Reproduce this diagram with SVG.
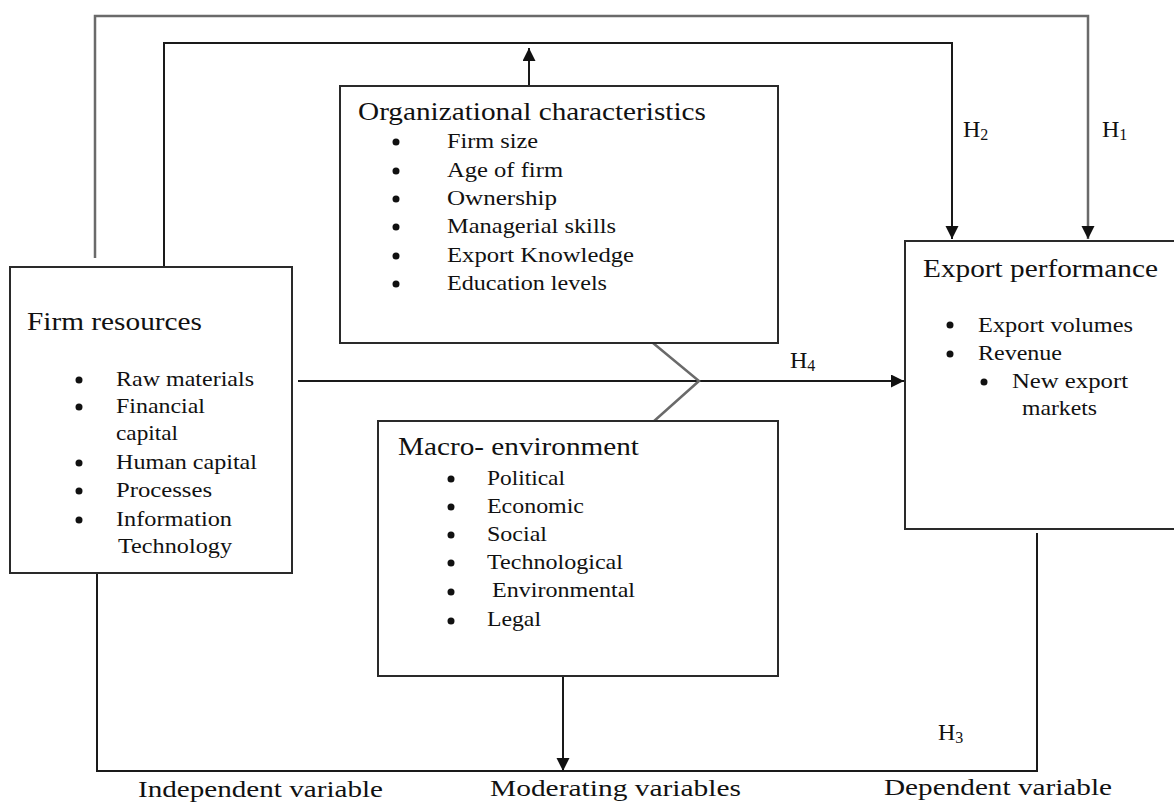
<svg xmlns="http://www.w3.org/2000/svg" width="1174" height="803" viewBox="0 0 1174 803">
<defs>
<style>
.box{fill:#fff;stroke:#2a2a2a;stroke-width:2}
.ln{fill:none;stroke:#1a1a1a;stroke-width:2}
.gl{fill:none;stroke:#6a6a6a;stroke-width:2.5}
.t{font-family:"Liberation Serif","Times New Roman",serif;fill:#111}
.ti{font-size:26px}
.it{font-size:22px}
.lb{font-size:24px}
.hl{font-size:24px}
.sub{font-size:16px}
.b{fill:#111}
</style>
<marker id="ah" markerUnits="userSpaceOnUse" markerWidth="14" markerHeight="14" refX="13" refY="6.5" orient="auto">
<path d="M0,0 L13,6.5 L0,13 z" fill="#111"/>
</marker>
</defs>
<rect width="1174" height="803" fill="#fff"/>

<g id="connectors">
<path class="gl" d="M95,258 V16 H1088 V239" marker-end="url(#ah)"/>
<path class="ln" d="M164,267 V43 H952 V239" marker-end="url(#ah)"/>
<path class="ln" d="M529,86 V48" marker-end="url(#ah)"/>
<path class="ln" d="M298,381 H904" marker-end="url(#ah)"/>
<path class="gl" d="M653,343 L699,381 L653,422" stroke-width="2"/>
<path class="ln" d="M1037,533 V771 H97 V573"/>
<path class="ln" d="M563,676 V771" marker-end="url(#ah)"/>
</g>

<g id="org">
<rect class="box" x="340" y="86" width="438" height="257"/>
<text class="t ti" x="358" y="120" textLength="348" lengthAdjust="spacingAndGlyphs">Organizational  characteristics</text>
<g class="b"><circle cx="396" cy="142" r="3.5"/><circle cx="396" cy="171" r="3.5"/><circle cx="396" cy="199" r="3.5"/><circle cx="396" cy="227" r="3.5"/><circle cx="396" cy="256" r="3.5"/><circle cx="396" cy="284" r="3.5"/></g>
<text class="t it" x="447" y="148" textLength="91" lengthAdjust="spacingAndGlyphs">Firm size</text>
<text class="t it" x="447" y="177" textLength="116" lengthAdjust="spacingAndGlyphs">Age of firm</text>
<text class="t it" x="447" y="205" textLength="110" lengthAdjust="spacingAndGlyphs">Ownership</text>
<text class="t it" x="447" y="233" textLength="169" lengthAdjust="spacingAndGlyphs">Managerial skills</text>
<text class="t it" x="447" y="262" textLength="187" lengthAdjust="spacingAndGlyphs">Export Knowledge</text>
<text class="t it" x="447" y="290" textLength="160" lengthAdjust="spacingAndGlyphs">Education levels</text>
</g>

<g id="firm">
<rect class="box" x="10" y="267" width="282" height="306"/>
<text class="t ti" x="27" y="330" textLength="175" lengthAdjust="spacingAndGlyphs">Firm resources</text>
<g class="b"><circle cx="79" cy="380" r="3.5"/><circle cx="79" cy="407" r="3.5"/><circle cx="79" cy="463" r="3.5"/><circle cx="79" cy="491" r="3.5"/><circle cx="79" cy="520" r="3.5"/></g>
<text class="t it" x="116" y="386" textLength="138" lengthAdjust="spacingAndGlyphs">Raw materials</text>
<text class="t it" x="116" y="413" textLength="89" lengthAdjust="spacingAndGlyphs">Financial</text>
<text class="t it" x="116" y="440" textLength="62" lengthAdjust="spacingAndGlyphs">capital</text>
<text class="t it" x="116" y="469" textLength="141" lengthAdjust="spacingAndGlyphs">Human capital</text>
<text class="t it" x="116" y="497" textLength="96" lengthAdjust="spacingAndGlyphs">Processes</text>
<text class="t it" x="116" y="526" textLength="116" lengthAdjust="spacingAndGlyphs">Information</text>
<text class="t it" x="118" y="553" textLength="114" lengthAdjust="spacingAndGlyphs">Technology</text>
</g>

<g id="macro">
<rect class="box" x="378" y="421" width="400" height="255"/>
<text class="t ti" x="398" y="455" textLength="241" lengthAdjust="spacingAndGlyphs">Macro-  environment</text>
<g class="b"><circle cx="451" cy="479" r="3.5"/><circle cx="451" cy="507" r="3.5"/><circle cx="451" cy="535" r="3.5"/><circle cx="451" cy="563" r="3.5"/><circle cx="451" cy="592" r="3.5"/><circle cx="451" cy="621" r="3.5"/></g>
<text class="t it" x="487" y="485" textLength="78" lengthAdjust="spacingAndGlyphs">Political</text>
<text class="t it" x="487" y="513" textLength="97" lengthAdjust="spacingAndGlyphs">Economic</text>
<text class="t it" x="487" y="541" textLength="60" lengthAdjust="spacingAndGlyphs">Social</text>
<text class="t it" x="487" y="569" textLength="136" lengthAdjust="spacingAndGlyphs">Technological</text>
<text class="t it" x="492" y="597" textLength="143" lengthAdjust="spacingAndGlyphs">Environmental</text>
<text class="t it" x="487" y="626" textLength="54" lengthAdjust="spacingAndGlyphs">Legal</text>
</g>

<g id="export">
<rect class="box" x="905" y="241" width="280" height="288"/>
<text class="t ti" x="923" y="277" textLength="235" lengthAdjust="spacingAndGlyphs">Export performance</text>
<g class="b"><circle cx="950" cy="325" r="3.5"/><circle cx="950" cy="354" r="3.5"/><circle cx="984" cy="382" r="3.5"/></g>
<text class="t it" x="978" y="332" textLength="155" lengthAdjust="spacingAndGlyphs">Export volumes</text>
<text class="t it" x="978" y="360" textLength="84" lengthAdjust="spacingAndGlyphs">Revenue</text>
<text class="t it" x="1012" y="388" textLength="116" lengthAdjust="spacingAndGlyphs">New export</text>
<text class="t it" x="1022" y="415" textLength="75" lengthAdjust="spacingAndGlyphs">markets</text>
</g>

<g id="labels">
<text class="t hl" x="963" y="137">H<tspan class="sub" dy="3">2</tspan></text>
<text class="t hl" x="1102" y="137">H<tspan class="sub" dy="3">1</tspan></text>
<text class="t hl" x="790" y="368">H<tspan class="sub" dy="3">4</tspan></text>
<text class="t hl" x="938" y="740">H<tspan class="sub" dy="3">3</tspan></text>
<text class="t lb" x="138" y="797" textLength="245" lengthAdjust="spacingAndGlyphs">Independent variable</text>
<text class="t lb" x="490" y="796" textLength="251" lengthAdjust="spacingAndGlyphs">Moderating variables</text>
<text class="t lb" x="884" y="795" textLength="228" lengthAdjust="spacingAndGlyphs">Dependent variable</text>
</g>
</svg>
